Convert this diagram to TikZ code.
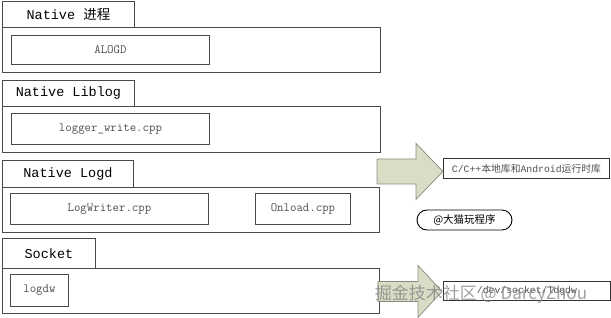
\documentclass[tikz,border=0pt]{standalone}
\usepackage{fontspec}
\setmainfont{Liberation Mono}
\newfontfamily\cjk{Noto Sans CJK SC}
\usetikzlibrary{calc,shapes.misc}
\definecolor{linegray}{HTML}{4A4A4A}
\definecolor{textgray}{HTML}{505050}
\definecolor{arrowgreen}{HTML}{D9DDC6}
\definecolor{arrowline}{HTML}{8A8A80}
\tikzset{
  tabbox/.style={draw=linegray, line width=0.9pt, fill=white, inner sep=0pt, anchor=north west,
    font=\fontsize{13.5}{15}\selectfont},
  mainbox/.style={draw=linegray, line width=0.9pt, inner sep=0pt, anchor=north west},
  itembox/.style={draw=linegray, line width=0.9pt, inner sep=0pt, anchor=north west,
    text=textgray, font=\ttfamily\fontsize{12.5}{14}\selectfont},
  labelbox/.style={draw=black!80, line width=0.9pt, inner sep=0pt, anchor=north west,
    text=textgray, font=\fontsize{9.8}{11}\selectfont},
  blockarrow/.style={fill=arrowgreen, draw=arrowline, line width=0.7pt, line join=miter},
  watermark/.style={text=gray, opacity=0.75, font=\cjk\fontsize{17}{19}\selectfont}
}
\begin{document}
\begin{tikzpicture}[x=1pt,y=-1pt]
\useasboundingbox (0,0) rectangle (611,318);
% layer 1
\node[mainbox, minimum width=378pt, minimum height=45pt] (m1) at (2,27) {};
\node[tabbox, minimum width=132pt, minimum height=26pt] (t1) at (2,1) {Native {\cjk 进程}};
\node[itembox, minimum width=198pt, minimum height=29pt] (alogd) at (11,35) {ALOGD};
% layer 2
\node[mainbox, minimum width=378pt, minimum height=46pt] (m2) at (2,106) {};
\node[tabbox, minimum width=132pt, minimum height=26pt] (t2) at (2,80) {Native Liblog};
\node[itembox, minimum width=198pt, minimum height=31pt] (lw) at (11,113) {logger\_write.cpp};
% layer 3
\node[mainbox, minimum width=377pt, minimum height=45pt] (m3) at (2,187) {};
\node[tabbox, minimum width=131pt, minimum height=27pt] (t3) at (2,160) {Native Logd};
\node[itembox, minimum width=198pt, minimum height=31pt] (logwriter) at (10,193) {LogWriter.cpp};
\node[itembox, minimum width=95pt, minimum height=31pt] (onload) at (255,193) {Onload.cpp};
% layer 4
\node[mainbox, minimum width=377pt, minimum height=45pt] (m4) at (2,268) {};
\node[tabbox, minimum width=93pt, minimum height=30pt] (t4) at (2,238) {Socket};
\node[itembox, minimum width=58pt, minimum height=32pt] (logdw) at (10,274) {logdw};
% labels
\node[labelbox, minimum width=166pt, minimum height=20pt] (l1) at (443,158)
  {C/C++{\cjk 本地库和}Android{\cjk 运行时库}};
\node[labelbox, minimum width=167pt, minimum height=19pt] (l2) at (443,281) {/dev/socket/logdw};
\node[draw=black, line width=0.9pt, rounded rectangle, minimum width=95pt, minimum height=20pt,
  inner sep=0pt, font=\cjk\fontsize{10.5}{12}\selectfont] (r1) at (464.5,220) {@大猫玩程序};
% block arrows
\coordinate (a1) at ($(l1.west)+(0,3)$);
\draw[blockarrow] (a1) -- ++(-27,-28) -- ++(0,15.5) -- ++(-39,0) -- ++(0,25) -- ++(39,0) -- ++(0,15.5) -- cycle;
\coordinate (a2) at ($(l2.west)+(-1,0.5)$);
\draw[blockarrow] (a2) -- ++(-24,-26) -- ++(0,16) -- ++(-40,0) -- ++(0,20) -- ++(40,0) -- ++(0,16) -- cycle;
% watermark
\node[watermark] (wm) at (481,294) {掘金技术社区 @ DarcyZhou};
\end{tikzpicture}
\end{document}
